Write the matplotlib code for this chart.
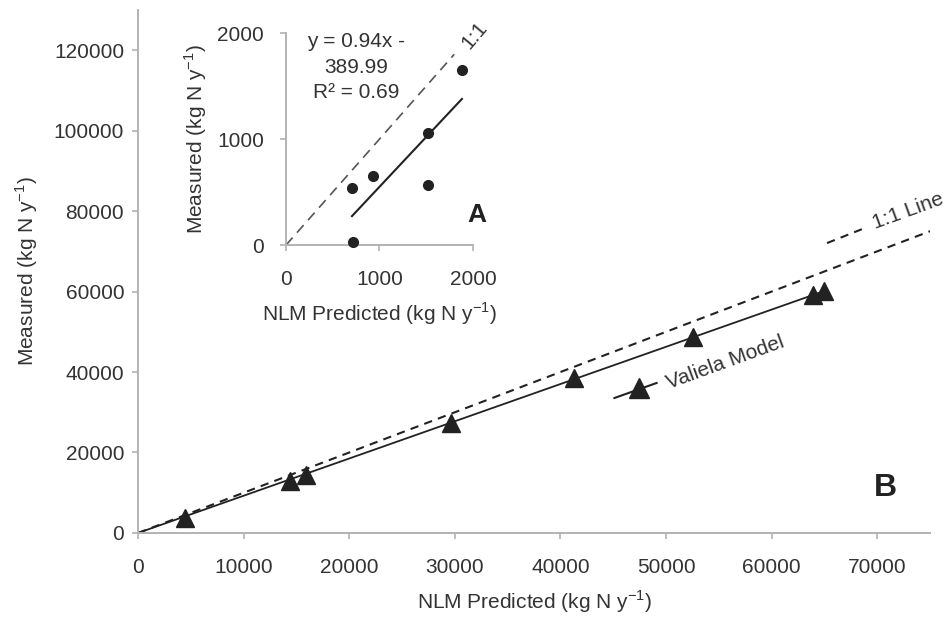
import numpy as np
import matplotlib
matplotlib.use("Agg")
import matplotlib.pyplot as plt

plt.rcParams['font.family'] = ['Liberation Sans', 'DejaVu Sans']

# main panel (B): NLM predicted vs measured, Valiela model
nlm_pred = [4460, 14430, 15950, 29630, 41310, 52520, 63900, 64960]
measured = [3730, 12920, 14410, 27330, 38500, 48700, 59130, 60120]

# inset panel (A)
inset_pred = [706, 717, 930, 1519, 1519, 1882]
inset_meas = [538, 28, 651, 1057, 566, 1651]
fit_slope = 0.94
fit_icept = -389.99

main_xticks = [0, 10000, 20000, 30000, 40000, 50000, 60000, 70000]
main_yticks = [0, 20000, 40000, 60000, 80000, 100000, 120000]
inset_ticks = [0, 1000, 2000]

dark = '#222222'
txt = '#333333'
spine = '#b3b3b3'
unit = r'(kg N y$^{\mathregular{-1}}$)'

fig = plt.figure(figsize=(9.52, 6.19), dpi=100)
ax = fig.add_axes([0.145, 0.139, 0.832, 0.845])

# trendline through origin
xs = np.array(nlm_pred, dtype=float)
ys = np.array(measured, dtype=float)
k = (xs * ys).sum() / (xs * xs).sum()
ax.plot([0, xs.max()], [0, k * xs.max()], color=dark, lw=1.3, zorder=2)
ax.plot([0, 75000], [0, 75000], color=dark, lw=1.5, ls=(0, (4, 3)), zorder=2)
ax.plot(nlm_pred, measured, ls='none', marker='^', ms=13, color=dark, zorder=3)

ax.set_xlim(0, 75000)
ax.set_ylim(0, 130000)
ax.set_xticks(main_xticks)
ax.set_yticks(main_yticks)
for s in ['top', 'right']:
    ax.spines[s].set_visible(False)
for s in ['left', 'bottom']:
    ax.spines[s].set_color(spine)
    ax.spines[s].set_linewidth(1.4)
ax.tick_params(axis='x', colors=spine, labelcolor=txt, length=4, width=1.2,
               labelsize=15, pad=14)
ax.tick_params(axis='y', colors=spine, labelcolor=txt, length=4, width=1.2,
               labelsize=15, pad=6)
ax.set_xlabel('NLM Predicted ' + unit, fontsize=15, color=txt, labelpad=8)
ax.set_ylabel('Measured ' + unit, fontsize=15, color=txt, labelpad=10)

# rotated in-plot legend entries
ax.plot([45110, 49100], [33540, 37270], color=dark, lw=1.5, clip_on=False)
ax.plot([47480], [36000], marker='^', ms=15, color=dark, clip_on=False)
ax.text(50000, 37600, 'Valiela Model', rotation=20, rotation_mode='anchor',
        ha='left', va='center_baseline', fontsize=15, color=txt)
ax.plot([65240, 68570], [72050, 75530], color=dark, lw=1.5, ls=(0, (4, 3)),
        clip_on=False)
ax.text(69800, 75600, '1:1 Line', rotation=20, rotation_mode='anchor',
        ha='left', va='baseline', fontsize=15, color=txt)
ax.text(70750, 11180, 'B', fontsize=23, fontweight='bold', color=dark,
        ha='center', va='center')

# inset
ins = fig.add_axes([0.3004, 0.604, 0.1964, 0.3425])
ins.plot([0, 1800], [0, 1800], color='#555555', lw=1.2, ls=(0, (6, 4)))
xf = np.array([min(inset_pred), max(inset_pred)], dtype=float)
ins.plot(xf, fit_slope * xf + fit_icept, color=dark, lw=1.5)
ins.plot(inset_pred, inset_meas, ls='none', marker='o', ms=7, color=dark,
         clip_on=False, zorder=3)
ins.set_xlim(0, 2000)
ins.set_ylim(0, 2000)
ins.set_xticks(inset_ticks)
ins.set_yticks(inset_ticks)
for s in ['top', 'right']:
    ins.spines[s].set_visible(False)
for s in ['left', 'bottom']:
    ins.spines[s].set_color(spine)
    ins.spines[s].set_linewidth(1.4)
ins.tick_params(axis='x', colors=spine, labelcolor=txt, length=4, width=1.2,
                labelsize=15, pad=14)
ins.tick_params(axis='y', colors=spine, labelcolor=txt, length=4, width=1.2,
                labelsize=15, pad=12)
ins.set_xlabel('NLM Predicted ' + unit, fontsize=15, color=txt, labelpad=8)
ins.set_ylabel('Measured ' + unit, fontsize=15, color=txt, labelpad=6)
ins.text(749, 1680, 'y = 0.94x -\n389.99\nR² = 0.69', ha='center',
         va='center', fontsize=15, color=txt, linespacing=1.45)
ins.text(2021, 1981, '1:1', rotation=50, ha='center', va='center',
         fontsize=15, color=txt, clip_on=False)
ins.text(2043, 283, 'A', fontsize=19, fontweight='bold', color=dark,
         ha='center', va='center')

fig.savefig('out.png', dpi=100)
